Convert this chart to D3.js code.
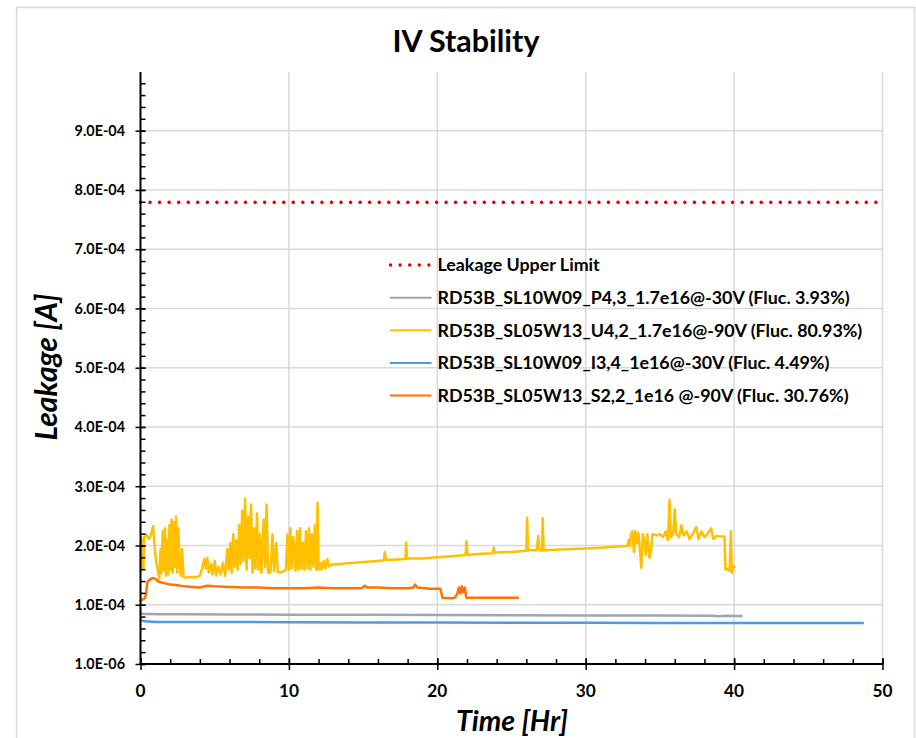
<!DOCTYPE html>
<html>
<head>
<meta charset="utf-8">
<script src="https://cdn.jsdelivr.net/npm/d3@7"></script>
<style>
  html, body { margin: 0; padding: 0; background: #fff; }
  svg { display: block; }
  text { font-family: Lato, "Open Sans", sans-serif; font-weight: bold; fill: #000; }
</style>
</head>
<body>
<svg id="chart" width="916" height="738"></svg>
<script>
// ---------------- DATA ----------------
const chartTitle = "IV Stability";
const xAxisTitle = "Time [Hr]";
const yAxisTitle = "Leakage [A]";

const xTickValues = [0, 10, 20, 30, 40, 50];
const xTickLabels = ["0", "10", "20", "30", "40", "50"];
const yTickValues = [1e-6, 1.01e-4, 2.01e-4, 3.01e-4, 4.01e-4, 5.01e-4, 6.01e-4, 7.01e-4, 8.01e-4, 9.01e-4];
const yTickLabels = ["1.0E-06", "1.0E-04", "2.0E-04", "3.0E-04", "4.0E-04", "5.0E-04", "6.0E-04", "7.0E-04", "8.0E-04", "9.0E-04"];

const legendLabels = [
  "Leakage Upper Limit",
  "RD53B_SL10W09_P4,3_1.7e16@-30V (Fluc. 3.93%)",
  "RD53B_SL05W13_U4,2_1.7e16@-90V (Fluc. 80.93%)",
  "RD53B_SL10W09_I3,4_1e16@-30V (Fluc. 4.49%)",
  "RD53B_SL05W13_S2,2_1e16 @-90V (Fluc. 30.76%)"
];
const seriesColors = ["#e30000", "#a5a5a5", "#ffc000", "#4a9edb", "#ff7300"];

// [time (hr), leakage (A)]
const limitSeries = [[0, 7.8e-4], [50, 7.8e-4]];

const seriesP43 = [
  [0, 0.86e-4], [0.5, 0.855e-4], [1.5, 0.85e-4], [3, 0.848e-4], [6, 0.845e-4], [10, 0.842e-4],
  [15, 0.84e-4], [20, 0.836e-4], [25, 0.833e-4], [30, 0.83e-4], [35, 0.827e-4], [38.5, 0.825e-4],
  [39, 0.815e-4], [39.5, 0.825e-4], [40, 0.818e-4], [40.5, 0.822e-4]
];

const seriesU42 = [
  [0, 1.6e-4], [0.05, 2.15e-4], [0.12, 2.05e-4], [0.2, 1.62e-4], [0.25, 2.15e-4], [0.4, 2.2e-4],
  [0.55, 2.12e-4], [0.7, 2.18e-4], [0.85, 2.34e-4], [0.95, 2.0e-4], [1.05, 1.75e-4], [1.15, 1.62e-4],
  [1.27, 1.45e-4], [1.35, 1.95e-4], [1.42, 1.55e-4], [1.5, 2.25e-4], [1.58, 1.6e-4], [1.65, 2.3e-4],
  [1.72, 1.5e-4], [1.8, 2.1e-4], [1.88, 1.52e-4], [1.95, 2.35e-4], [2.02, 1.6e-4], [2.1, 2.45e-4],
  [2.18, 1.55e-4], [2.25, 2.4e-4], [2.32, 1.65e-4], [2.4, 2.5e-4], [2.48, 1.55e-4], [2.55, 2.3e-4],
  [2.62, 1.8e-4], [2.7, 1.5e-4], [2.8, 1.95e-4], [2.9, 1.48e-4], [3.0, 1.47e-4], [3.2, 1.47e-4],
  [3.4, 1.48e-4], [3.6, 1.47e-4], [3.8, 1.48e-4], [4.0, 1.5e-4], [4.15, 1.62e-4], [4.3, 1.78e-4],
  [4.4, 1.62e-4], [4.5, 1.8e-4], [4.6, 1.55e-4], [4.75, 1.7e-4], [4.85, 1.52e-4], [5.0, 1.75e-4],
  [5.1, 1.5e-4], [5.25, 1.65e-4], [5.4, 1.52e-4], [5.55, 1.72e-4], [5.7, 1.5e-4], [5.85, 1.95e-4],
  [5.95, 1.6e-4], [6.05, 2.05e-4], [6.15, 1.55e-4], [6.25, 2.2e-4], [6.35, 1.65e-4], [6.45, 2.1e-4],
  [6.55, 1.6e-4], [6.65, 2.35e-4], [6.75, 1.7e-4], [6.85, 2.6e-4], [6.95, 1.75e-4], [7.05, 2.8e-4],
  [7.15, 1.6e-4], [7.25, 2.5e-4], [7.35, 1.8e-4], [7.45, 2.7e-4], [7.55, 1.55e-4], [7.65, 2.3e-4],
  [7.75, 1.62e-4], [7.85, 2.55e-4], [7.95, 1.6e-4], [8.05, 2.2e-4], [8.15, 1.55e-4], [8.3, 2.45e-4],
  [8.4, 1.65e-4], [8.5, 2.7e-4], [8.6, 1.55e-4], [8.75, 1.55e-4], [8.9, 2.2e-4], [9.0, 1.58e-4],
  [9.15, 2.05e-4], [9.25, 1.56e-4], [9.45, 1.56e-4], [9.6, 1.57e-4], [9.8, 1.6e-4], [9.9, 2.2e-4],
  [10.0, 1.6e-4], [10.1, 2.3e-4], [10.2, 1.62e-4], [10.3, 2.15e-4], [10.45, 1.58e-4], [10.55, 2.25e-4],
  [10.65, 1.6e-4], [10.75, 2.3e-4], [10.85, 1.62e-4], [10.95, 2.05e-4], [11.05, 1.6e-4], [11.15, 2.25e-4],
  [11.25, 1.62e-4], [11.35, 2.3e-4], [11.45, 1.6e-4], [11.55, 2.2e-4], [11.65, 1.65e-4], [11.75, 2.35e-4],
  [11.85, 1.6e-4], [11.93, 2.73e-4], [12.0, 1.6e-4], [12.1, 1.72e-4], [12.2, 1.6e-4], [12.35, 1.75e-4],
  [12.45, 1.62e-4], [12.6, 1.78e-4], [12.7, 1.65e-4], [12.8, 1.68e-4], [13, 1.69e-4], [14, 1.71e-4],
  [15, 1.73e-4], [16, 1.75e-4], [16.4, 1.76e-4], [16.46, 1.9e-4], [16.55, 1.77e-4], [17, 1.77e-4],
  [17.85, 1.78e-4], [17.9, 2.06e-4], [17.97, 1.79e-4], [19, 1.79e-4], [20, 1.81e-4], [21, 1.83e-4],
  [21.9, 1.85e-4], [21.97, 2.08e-4], [22.04, 1.85e-4], [23, 1.87e-4], [23.75, 1.88e-4], [23.8, 1.97e-4],
  [23.87, 1.89e-4], [25, 1.9e-4], [26, 1.92e-4], [26.05, 2.48e-4], [26.12, 1.93e-4], [26.7, 1.93e-4],
  [26.8, 2.17e-4], [26.88, 1.93e-4], [27.05, 1.92e-4], [27.1, 2.47e-4], [27.17, 1.93e-4], [28, 1.94e-4],
  [29, 1.95e-4], [30, 1.96e-4], [31, 1.97e-4], [32, 1.99e-4], [32.8, 2.0e-4], [32.9, 2.1e-4],
  [32.98, 2.0e-4], [33.05, 2.2e-4], [33.15, 2.25e-4], [33.25, 1.9e-4], [33.35, 2.25e-4], [33.45, 2.05e-4],
  [33.55, 2.22e-4], [33.65, 1.95e-4], [33.75, 1.63e-4], [33.85, 2.2e-4], [33.95, 2.1e-4], [34.05, 1.85e-4],
  [34.15, 2.2e-4], [34.3, 1.8e-4], [34.4, 1.9e-4], [34.5, 2.2e-4], [34.8, 2.18e-4], [35.0, 2.2e-4],
  [35.2, 2.15e-4], [35.4, 2.25e-4], [35.55, 2.1e-4], [35.65, 2.78e-4], [35.75, 2.15e-4], [35.9, 2.22e-4],
  [36.0, 2.62e-4], [36.1, 2.2e-4], [36.3, 2.15e-4], [36.45, 2.35e-4], [36.6, 2.18e-4], [36.8, 2.25e-4],
  [37.0, 2.12e-4], [37.2, 2.2e-4], [37.45, 2.32e-4], [37.6, 2.12e-4], [37.8, 2.25e-4], [38.0, 2.15e-4],
  [38.2, 2.2e-4], [38.45, 2.3e-4], [38.6, 2.12e-4], [38.8, 2.17e-4], [39.1, 2.16e-4], [39.35, 2.16e-4],
  [39.42, 1.6e-4], [39.55, 1.62e-4], [39.7, 1.58e-4], [39.78, 2.25e-4], [39.85, 1.55e-4], [39.95, 1.66e-4],
  [40.05, 1.65e-4]
];

const seriesI34 = [
  [0, 0.75e-4], [0.3, 0.73e-4], [1, 0.72e-4], [5, 0.72e-4], [10, 0.715e-4], [15, 0.712e-4],
  [20, 0.71e-4], [25, 0.708e-4], [30, 0.705e-4], [35, 0.703e-4], [40, 0.7e-4], [45, 0.7e-4], [48.67, 0.7e-4]
];

const seriesS22 = [
  [0, 1.08e-4], [0.15, 1.1e-4], [0.3, 1.12e-4], [0.38, 1.2e-4], [0.45, 1.38e-4], [0.6, 1.43e-4],
  [0.8, 1.46e-4], [1.0, 1.45e-4], [1.2, 1.4e-4], [1.5, 1.38e-4], [2.0, 1.35e-4], [2.5, 1.34e-4],
  [3.0, 1.32e-4], [3.5, 1.31e-4], [4.0, 1.3e-4], [4.5, 1.33e-4], [5.0, 1.32e-4], [6.0, 1.31e-4],
  [7.0, 1.3e-4], [8.0, 1.3e-4], [9.0, 1.29e-4], [10, 1.29e-4], [11, 1.29e-4], [12, 1.3e-4],
  [13, 1.29e-4], [14, 1.29e-4], [14.9, 1.29e-4], [15.1, 1.33e-4], [15.3, 1.3e-4], [16, 1.3e-4],
  [17, 1.29e-4], [18, 1.29e-4], [18.4, 1.3e-4], [18.5, 1.35e-4], [18.65, 1.3e-4], [19.5, 1.28e-4],
  [20.2, 1.28e-4], [20.35, 1.13e-4], [21.0, 1.12e-4], [21.2, 1.13e-4], [21.35, 1.2e-4], [21.45, 1.3e-4],
  [21.55, 1.2e-4], [21.65, 1.32e-4], [21.75, 1.22e-4], [21.85, 1.3e-4], [21.95, 1.13e-4], [23, 1.13e-4],
  [25.44, 1.13e-4]
];

// ---------------- CHART ----------------
(function () {
const svg = d3.select("#chart");
const W = 916, H = 738;
const plotLeft = 140.5, plotRight = 882.5, plotTop = 72, plotBottom = 664;

// scale the font size of a text selection so that its widest item spans targetW
function fitWidth(sel, targetW, baseSize) {
  let maxW = 0;
  sel.each(function () { maxW = Math.max(maxW, this.getComputedTextLength()); });
  if (maxW > 0) sel.attr("font-size", baseSize * targetW / maxW);
}

svg.append("rect").attr("width", W).attr("height", H).attr("fill", "#fff");
svg.append("rect").attr("x", 16.5).attr("y", 7.5).attr("width", 898).attr("height", 740)
  .attr("fill", "none").attr("stroke", "#d9d9d9").attr("stroke-width", 1.5);

const x = d3.scaleLinear().domain([0, 50]).range([plotLeft, plotRight]);
const y = d3.scaleLinear().domain([1e-6, 1e-3]).range([plotBottom, plotTop]);

const gridColor = "#d9d9d9";
svg.append("g").selectAll("line").data(yTickValues.slice(1)).join("line")
  .attr("x1", plotLeft).attr("x2", plotRight)
  .attr("y1", d => y(d)).attr("y2", d => y(d))
  .attr("stroke", gridColor).attr("stroke-width", 1.5);
svg.append("g").selectAll("line").data(xTickValues.slice(1)).join("line")
  .attr("x1", d => x(d)).attr("x2", d => x(d))
  .attr("y1", plotTop).attr("y2", plotBottom)
  .attr("stroke", gridColor).attr("stroke-width", 1.5);

// Series
const line = d3.line().x(d => x(d[0])).y(d => y(d[1]));
const plotG = svg.append("g");
plotG.append("path").datum(limitSeries).attr("d", line)
  .attr("fill", "none").attr("stroke", seriesColors[0]).attr("stroke-width", 3.6)
  .attr("stroke-linecap", "round").attr("stroke-dasharray", "0 9.55");
const dataSeries = [seriesP43, seriesU42, seriesI34, seriesS22];
dataSeries.forEach((s, i) => {
  plotG.append("path").datum(s).attr("d", line)
    .attr("fill", "none").attr("stroke", seriesColors[i + 1]).attr("stroke-width", 2.5)
    .attr("stroke-linejoin", "round").attr("stroke-linecap", "round");
});

// Axes
const axisColor = "#000";
const yMinor = d3.range(0, 50).map(k => 1e-6 + k * 2e-5).filter(v => v < 1e-3);
const xMinor = d3.range(0, 51, 2);

const yAxisG = svg.append("g").attr("transform", `translate(${plotLeft},0)`);
yAxisG.append("g").call(d3.axisRight(y).tickValues(yMinor).tickSize(5).tickFormat(""));
yAxisG.append("g").call(d3.axisLeft(y).tickValues(yTickValues).tickSize(5).tickFormat(""));
yAxisG.append("g").call(d3.axisRight(y).tickValues(yTickValues).tickSize(5).tickFormat(""));
yAxisG.selectAll(".domain").remove();
yAxisG.selectAll("line").attr("stroke", axisColor).attr("stroke-width", 1.5);
yAxisG.append("line").attr("x1", 0).attr("x2", 0).attr("y1", plotTop).attr("y2", plotBottom + 0.75)
  .attr("stroke", axisColor).attr("stroke-width", 2);

const xAxisG = svg.append("g").attr("transform", `translate(0,${plotBottom})`);
xAxisG.append("g").call(d3.axisTop(x).tickValues(xMinor).tickSize(5).tickFormat(""));
xAxisG.append("g").call(d3.axisTop(x).tickValues(xTickValues).tickSize(6).tickFormat(""));
xAxisG.append("g").call(d3.axisBottom(x).tickValues(xTickValues).tickSize(6).tickFormat(""));
xAxisG.selectAll(".domain").remove();
xAxisG.selectAll("line").attr("stroke", axisColor).attr("stroke-width", 1.5);
xAxisG.append("line").attr("x1", plotLeft - 1).attr("x2", plotRight + 0.75).attr("y1", 0).attr("y2", 0)
  .attr("stroke", axisColor).attr("stroke-width", 2);

// Tick labels
const yLab = svg.append("g").selectAll("text").data(yTickValues).join("text")
  .attr("x", 125).attr("y", d => y(d) + 5.3)
  .attr("text-anchor", "end").attr("font-size", 15)
  .text((d, i) => yTickLabels[i]);
fitWidth(yLab, 50.5, 15);
const xLab = svg.append("g").selectAll("text").data(xTickValues).join("text")
  .attr("x", d => x(d)).attr("y", 696.5)
  .attr("text-anchor", "middle").attr("font-size", 16)
  .text((d, i) => xTickLabels[i]);
fitWidth(xLab, 20, 16);

// Titles
const tTitle = svg.append("text").attr("x", 466).attr("y", 52).attr("text-anchor", "middle")
  .attr("font-size", 27).text(chartTitle);
fitWidth(tTitle, 147, 27);
const tX = svg.append("text").attr("x", 512).attr("y", 731).attr("text-anchor", "middle")
  .attr("font-size", 27).attr("font-style", "italic").text(xAxisTitle);
fitWidth(tX, 112, 27);
const tY = svg.append("text").attr("transform", "translate(57,367) rotate(-90)").attr("text-anchor", "middle")
  .attr("font-size", 27).attr("font-style", "italic").text(yAxisTitle);
fitWidth(tY, 147, 27);

// Legend
const legendG = svg.append("g");
const rowY0 = 265, rowStep = 32.65;
legendLabels.forEach((lab, i) => {
  const cy = rowY0 + i * rowStep;
  const ln = legendG.append("line").attr("x1", 390).attr("x2", 431.5).attr("y1", cy).attr("y2", cy)
    .attr("stroke", seriesColors[i]);
  if (i === 0) {
    ln.attr("x1", 390.5).attr("x2", 431.5).attr("stroke-width", 3.4).attr("stroke-linecap", "round").attr("stroke-dasharray", "0 9.6");
  } else {
    ln.attr("stroke-width", 2);
  }
});
const legText = legendG.selectAll("text").data(legendLabels).join("text")
  .attr("x", 437.5).attr("y", (d, i) => rowY0 + i * rowStep + 6.4)
  .attr("font-size", 17.5).text(d => d);
fitWidth(legText, 425, 17.5);
})();
</script>
</body>
</html>
